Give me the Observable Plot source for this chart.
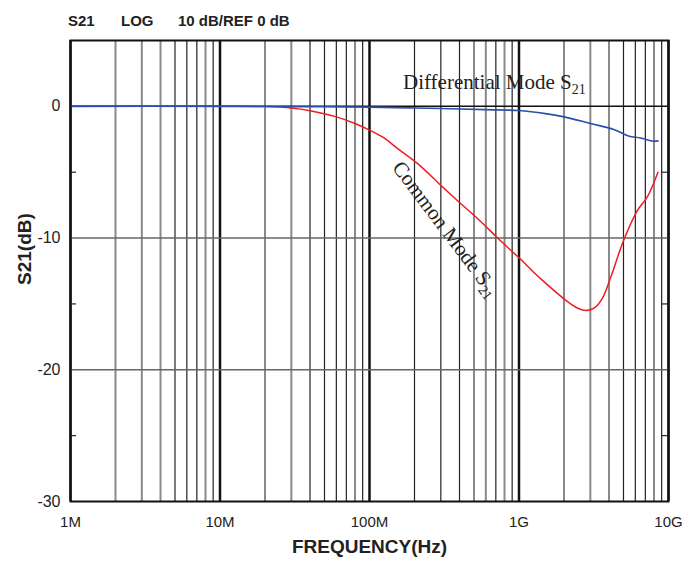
<!DOCTYPE html>
<html><head><meta charset="utf-8">
<script src="https://cdn.jsdelivr.net/npm/d3@7"></script>
<script src="https://cdn.jsdelivr.net/npm/@observablehq/plot@0.6"></script>
<style>
body{margin:0;background:#fff;}
#wrap{position:relative;width:696px;height:565px;overflow:hidden;}
#hdr{position:relative;height:32px;font:bold 15px "Liberation Sans",Arial,sans-serif;color:#222;}
#hdr span{position:absolute;top:12px;line-height:normal;white-space:pre;}
#chart svg{display:block;}
#chart svg g[aria-label^="x-axis"], #chart svg g[aria-label^="y-axis"]{font-size:15px;font-family:"Liberation Sans",Arial,sans-serif;}
#chart svg g[aria-label^="y-axis"]{font-size:16px;}
</style></head><body>
<div id="wrap">
  <div id="hdr"><span style="left:68px">S21</span><span style="left:121px">LOG</span><span style="left:178px">10 dB/REF 0 dB</span></div>
  <div id="chart"></div>
</div>
<script>
// ---- data ----
const xTickValues = [1e6, 1e7, 1e8, 1e9, 1e10];
const xTickLabels = ["1M", "10M", "100M", "1G", "10G"];
const yTickValues = [0, -10, -20, -30];
const yTickLabels = ["0", "-10", "-20", "-30"];
const yMinorTicks = [-5, -15, -25];

// Common mode S21 (red)
const cmFreq = [1e6, 1e7, 2e7, 3e7, 4e7, 6e7, 8e7, 1e8, 1.25e8, 1.5e8, 2.1e8, 3e8, 4e8, 5.5e8, 7.2e8, 1e9, 1.4e9, 2.1e9, 2.5e9, 2.8e9, 3.2e9, 3.6e9, 4.1e9, 5e9, 6.2e9, 7.2e9, 8.5e9];
const cmDb   = [0, 0, -0.02, -0.12, -0.33, -0.8, -1.3, -1.8, -2.4, -3.1, -4.35, -6.0, -7.3, -8.7, -10.0, -11.5, -13.1, -14.8, -15.35, -15.5, -15.3, -14.6, -13.0, -10.2, -7.9, -6.9, -5.0];

// Differential mode S21 (blue)
const dmFreq = [1e6, 1e7, 3e7, 1e8, 2e8, 3.5e8, 6e8, 1e9, 1.5e9, 2e9, 3e9, 4.3e9, 5.4e9, 6.5e9, 7.9e9, 8.5e9];
const dmDb   = [0, 0, -0.02, -0.06, -0.12, -0.18, -0.25, -0.32, -0.55, -0.8, -1.3, -1.75, -2.25, -2.4, -2.65, -2.62];

// annotations
const labelText = ["Differential Mode S_21", "Common Mode S_21"];
const labelFreq = [1.675e8, 3.25e8];
const labelDb   = [1.85, -9.3];
const labelRotate = [0, 53];
const labelAnchor = ["start", "middle"];

// ---- build tables ----
const cm = cmFreq.map((f, i) => ({f, db: cmDb[i]}));
const dm = dmFreq.map((f, i) => ({f, db: dmDb[i]}));
const labels = labelText.map((t, i) => ({t, f: labelFreq[i], db: labelDb[i], r: labelRotate[i], a: labelAnchor[i]}));

const decades = [1e6, 1e7, 1e8, 1e9];
const grayMinor = {1e6: [2, 3, 4, 8], 1e7: [2, 3, 8], 1e8: [5, 6, 8], 1e9: [2, 3, 4, 8]};
const minor = [];
for (const d of decades) for (let k = 2; k <= 9; k++) minor.push({f: k * d, gray: grayMinor[d].includes(k)});

const fmtX = d => { const i = xTickValues.indexOf(d); return i >= 0 ? xTickLabels[i] : ""; };
const fmtY = d => { const i = yTickValues.indexOf(d); return i >= 0 ? yTickLabels[i] : ""; };

const serif = "'Liberation Serif', 'Times New Roman', serif";

const chart = Plot.plot({
  width: 696,
  height: 533,
  marginLeft: 70,
  marginRight: 28,
  marginTop: 8,
  marginBottom: 64,
  style: {fontFamily: "'Liberation Sans', Arial, sans-serif", fontSize: "15px", color: "#222", background: "#fff"},
  x: {type: "log", domain: [1e6, 1e10], ticks: xTickValues, tickFormat: fmtX, tickSize: 0, tickPadding: 15, label: null},
  y: {domain: [-30, 5], ticks: yTickValues, tickFormat: fmtY, tickSize: 0, tickPadding: 10, label: null},
  marks: [
    Plot.ruleX(minor.filter(d => !d.gray), {x: "f", stroke: "#222", strokeWidth: 1.2}),
    Plot.ruleX(minor.filter(d => d.gray), {x: "f", stroke: "#8a8a8a", strokeWidth: 2}),
    Plot.ruleX(xTickValues, {stroke: "#111", strokeWidth: 2.5}),
    Plot.ruleY([-10, -20], {stroke: "#666", strokeWidth: 1.6}),
    Plot.ruleY([0], {stroke: "#111", strokeWidth: 1.5}),
    Plot.ruleY(yMinorTicks, {insetRight: 592, stroke: "#222", strokeWidth: 1.2}),
    Plot.ruleY(yMinorTicks, {insetLeft: 592, stroke: "#222", strokeWidth: 1.2}),
    Plot.line(cm, {x: "f", y: "db", stroke: "#ee1c24", strokeWidth: 1.5, curve: "catmull-rom"}),
    Plot.line(dm, {x: "f", y: "db", stroke: "#2a4fa8", strokeWidth: 1.6, curve: "catmull-rom"}),
    Plot.frame({stroke: "#111", strokeWidth: 2}),
    Plot.text(labels, {x: "f", y: "db", text: "t", rotate: "r", textAnchor: "start", fontFamily: serif, fontSize: 21, fill: "#222", filter: d => d.a === "start"}),
    Plot.text(labels, {x: "f", y: "db", text: "t", rotate: "r", textAnchor: "middle", fontFamily: serif, fontSize: 21, fill: "#222", filter: d => d.a === "middle"}),
    Plot.text(["FREQUENCY(Hz)"], {frameAnchor: "bottom", dy: 51, fontWeight: "bold", fontSize: 19, fill: "#222"}),
    Plot.text(["S21(dB)"], {frameAnchor: "left", dx: -46, dy: 14, rotate: -90, fontWeight: "bold", fontSize: 19, fill: "#222"})
  ]
});
document.getElementById("chart").appendChild(chart);

// subscripts
d3.select(chart).selectAll("text").each(function() {
  const t = this.textContent;
  if (t.includes("_21")) {
    const base = t.split("_")[0];
    const sel = d3.select(this);
    sel.text(base);
    sel.append("tspan").attr("font-size", 14).attr("dy", 5).text("21");
  }
});
</script>
</body></html>
